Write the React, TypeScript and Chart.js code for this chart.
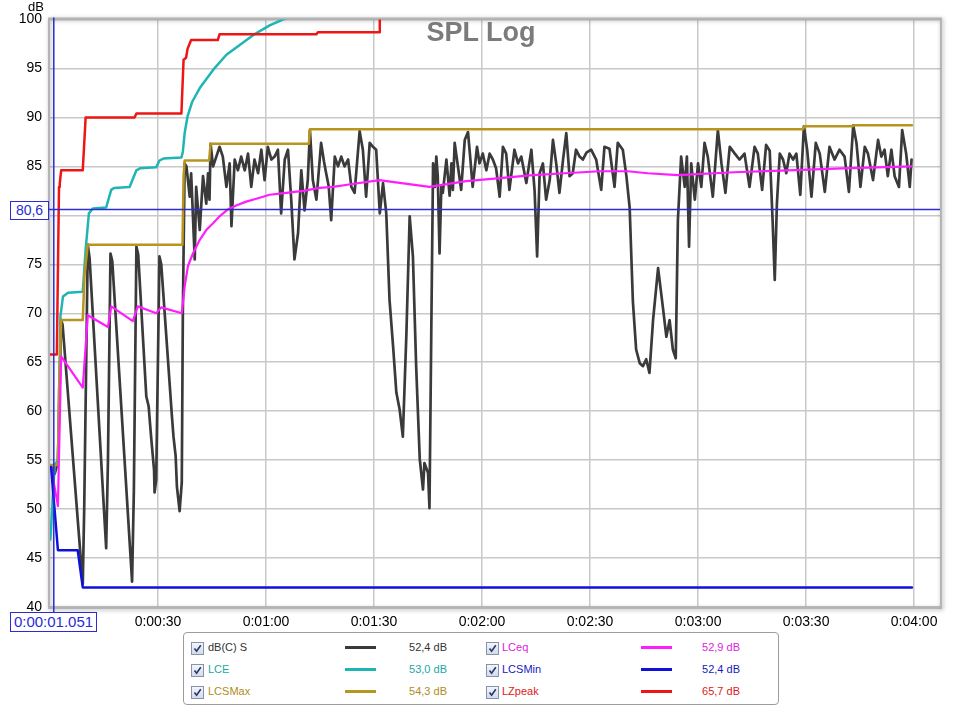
import React, { useEffect, useRef } from "react";
import { Chart, registerables } from "chart.js";

Chart.register(...registerables);

const FONT = '"Liberation Sans", Arial, sans-serif';

// ---- axes ----
const X_MIN = 0;
const X_MAX = 247.2; // seconds
const Y_MIN = 40;
const Y_MAX = 100;
const xTickValues = [30, 60, 90, 120, 150, 180, 210, 240];
const yTickValues = [40, 45, 50, 55, 60, 65, 70, 75, 80, 85, 90, 95, 100];

// ---- cursor ----
const cursorTime = 1.051;
const cursorLevel = 80.6;
const cursorTimeLabel = "0:00:01.051";
const cursorLevelLabel = "80,6";

// ---- dB(C) S ----
const dbcsT = [
  0.3, 1.3, 2.2, 3.1, 3.5, 9.1, 9.5, 10.5, 11.0, 15.6, 16.1, 16.8, 17.3, 22.8, 23.3, 24.0, 24.5,
  26.75, 27.4, 28.1, 28.9, 29.05, 29.5, 30.4, 30.9, 33.9, 34.3, 34.9, 35.25, 36.0, 36.6, 36.9,
  37.4, 37.9, 38.8, 39.2, 40.2, 40.6, 41.6, 42.5, 43.4, 43.9, 44.3, 44.6, 45.3, 46.2, 47.1, 48.0,
  49.0, 49.9, 50.4, 51.3, 52.2, 53.1, 54.1, 55.0, 55.9, 56.8, 57.8, 58.7, 59.6, 60.5, 61.5, 62.4,
  63.3, 64.2, 65.2, 66.1, 67.0, 67.9, 68.9, 69.8, 70.7, 71.6, 72.2, 73.0, 74.0, 75.3, 76.1, 76.7,
  77.4, 78.1, 79.1, 80.0, 80.9, 81.8, 82.8, 83.7, 84.6, 86.0, 86.9, 87.8, 88.8, 89.7, 90.6, 91.6,
  92.5, 93.4, 94.3, 95.3, 96.2, 97.1, 98.0, 99.0, 99.9, 100.8, 101.7, 102.7, 103.6, 104.0, 105.0,
  105.4, 105.9, 106.4, 106.9, 107.3, 107.7, 108.2, 108.7, 109.1, 110.1, 111.0, 111.5, 111.9, 112.4,
  113.3, 114.2, 115.2, 116.1, 116.7, 117.4, 118.6, 119.3, 120.2, 121.2, 122.1, 123.0, 123.9, 124.9,
  125.8, 126.7, 127.6, 129.0, 130.0, 130.9, 132.3, 133.7, 134.6, 135.3, 136.0, 136.9, 137.8, 138.8,
  139.7, 140.6, 141.5, 142.5, 143.4, 144.3, 145.2, 146.1, 147.1, 148.0, 149.0, 150.3, 151.7, 153.1,
  154.0, 155.4, 156.8, 157.7, 159.1, 160.1, 161.0, 161.9, 162.8, 163.8, 164.7, 165.6, 166.5, 167.5,
  168.9, 170.2, 171.2, 172.1, 173.0, 173.8, 174.4, 175.3, 176.3, 176.9, 177.5, 178.1, 179.1, 180.0,
  180.9, 181.8, 182.7, 184.1, 185.5, 186.5, 187.6, 188.8, 190.2, 191.5, 192.9, 194.3, 195.7, 196.6,
  197.8, 198.9, 199.9, 200.7, 201.3, 201.9, 202.7, 203.6, 204.5, 205.4, 206.4, 207.3, 208.4, 209.4,
  210.3, 211.5, 212.7, 213.8, 215.2, 216.5, 217.9, 219.3, 220.7, 221.9, 223.1, 224.0, 225.1, 226.3,
  227.2, 228.6, 230.0, 230.9, 231.8, 232.7, 233.7, 234.6, 235.8, 236.7, 237.8, 238.8, 239.3,
];
const dbcsV = [
  54.3, 53.6, 54.8, 69.3, 68.8, 42.3, 50.0, 77.0, 75.6, 46.0, 55.0, 76.1, 75.3, 42.6, 52.0, 76.8, 76.0,
  61.5, 60.5, 57.3, 54.0, 51.7, 53.0, 75.8, 75.0, 59.3, 57.4, 55.4, 52.3, 49.8, 52.7, 70.0,
  85.3, 85.0, 81.9, 84.3, 75.5, 82.9, 78.5, 84.0, 81.2, 84.3, 81.6, 87.3, 85.0, 86.0, 87.0, 86.0,
  82.9, 85.3, 78.9, 85.7, 84.6, 86.0, 84.6, 86.3, 82.9, 85.7, 84.3, 86.7, 83.6, 87.0, 85.7, 86.0,
  86.7, 80.2, 85.7, 86.7, 81.6, 75.5, 78.2, 84.6, 80.5, 83.6, 88.7, 83.6, 81.6, 87.4, 85.5, 84.3,
  83.0, 79.5, 86.0, 85.0, 86.0, 85.0, 85.7, 82.9, 82.3, 88.6, 86.7, 81.9, 87.4, 87.0, 86.7, 80.2,
  83.3, 80.2, 71.4, 66.6, 61.9, 60.2, 57.4, 68.0, 79.9, 75.8, 64.6, 55.1, 52.0, 54.7, 53.7,
  50.1, 68.0, 85.3, 82.9, 86.0, 84.0, 76.1, 83.0, 82.3, 85.7, 82.0, 85.3, 82.6, 87.4,
  85.0, 82.6, 87.7, 88.5, 86.0, 82.9, 87.0, 85.3, 86.3, 84.6, 86.3, 85.7, 84.8, 81.9,
  87.0, 86.3, 82.6, 86.7, 85.3, 86.0, 83.3, 86.7, 82.5, 75.8, 84.3, 85.3, 81.6, 83.6,
  87.7, 85.3, 82.3, 85.7, 88.4, 84.0, 84.3, 86.7, 86.0, 85.7, 86.4, 86.7, 85.7, 82.6,
  87.0, 86.8, 82.9, 87.4, 86.7, 84.0, 80.8, 71.2, 66.3, 64.9, 64.6, 65.3, 63.9, 69.3,
  74.6, 70.7, 67.6, 69.3, 66.3, 65.4, 79.5, 86.0, 82.9, 86.0, 76.8, 85.3, 81.6, 85.3,
  82.9, 87.4, 86.0, 81.9, 88.7, 85.3, 82.3, 87.0, 86.3, 85.7, 86.3, 82.9, 87.0, 86.3,
  82.6, 87.2, 86.6, 79.5, 73.4, 81.2, 86.3, 85.7, 84.3, 86.3, 85.7, 86.3, 82.1, 89.1,
  86.7, 81.9, 87.4, 86.3, 82.4, 87.0, 85.7, 86.7, 86.0, 82.4, 89.2, 87.4, 82.9, 87.0,
  86.3, 83.6, 87.7, 86.0, 86.7, 84.0, 86.7, 84.0, 82.9, 88.7, 86.3, 82.9, 85.7,
];

// ---- LCeq ----
const lceqT = [
  0.3, 2.2, 3.1, 9.1, 10.5, 16.1, 17.0, 23.0, 24.4, 29.5, 30.9, 36.6, 37.4, 38.3, 39.7, 41.6, 43.4,
  45.3, 47.1, 49.4, 51.7, 54.5, 57.3, 61.0, 65.6, 70.3, 74.9, 78.6, 84.0, 91.5, 93.5, 105.4, 115.6,
  125.0, 134.1, 143.0, 152.6, 160.5, 166.0, 174.4, 190.0, 205.0, 220.0, 239.3,
];
const lceqV = [
  54.3, 50.3, 65.6, 62.4, 69.8, 68.6, 70.7, 69.2, 70.7, 70.0, 70.6, 70.0, 72.7, 74.8, 76.1, 77.5, 78.5,
  79.2, 79.9, 80.6, 81.0, 81.4, 81.7, 82.1, 82.3, 82.5, 82.8, 82.9, 83.2, 83.6, 83.5, 82.9, 83.5,
  83.8, 84.1, 84.3, 84.5, 84.5, 84.3, 84.1, 84.4, 84.6, 84.8, 85.0,
];

// ---- LCE ----
const lceT = [
  0.1, 1.3, 2.2, 2.9, 3.6, 5.0, 9.1, 9.9, 10.8, 11.9, 15.6, 17.0, 17.8, 22.1, 24.0, 25.0, 29.5, 30.4,
  31.5, 36.5, 36.9, 37.4, 38.2, 39.5, 41.6, 45.3, 49.0, 52.7, 56.4, 61.0, 64.7, 70.0,
];
const lceV = [
  46.9, 54.5, 55.0, 69.7, 71.7, 72.1, 72.2, 76.5, 80.2, 80.7, 80.8, 82.6, 82.8, 82.9, 84.6, 84.8, 84.9, 85.6,
  85.8, 85.9, 86.5, 88.4, 90.1, 91.6, 93.0, 94.85, 96.4, 97.4, 98.4, 99.4, 100.0, 100.8,
];

// ---- LCSMax ----
const lcsmaxT = [0, 2.2, 2.5, 3.1, 9.1, 9.6, 10.5, 36.8, 37.1, 37.4, 44.2, 44.6, 71.9, 72.2, 209.2, 209.5, 222.9, 223.2, 239.4];
const lcsmaxV = [54.5, 54.5, 62.0, 69.3, 69.3, 74.0, 77.0, 77.0, 84.0, 85.6, 85.6, 87.3, 87.3, 88.8, 88.8, 89.1, 89.1, 89.2, 89.2];

// ---- LCSMin ----
const lcsminT = [0.3, 2.2, 7.7, 9.1, 239.4];
const lcsminV = [54.3, 45.8, 45.8, 42.0, 42.0];

// ---- LZpeak ----
const lzpeakT = [0, 1.9, 2.5, 2.7, 3.1, 9.1, 9.9, 23.5, 24.0, 36.5, 37.1, 37.8, 38.2, 39.2, 46.6, 47.1, 74.0, 74.4, 91.4, 91.6];
const lzpeakV = [65.8, 65.8, 82.9, 83.2, 84.6, 84.6, 90.0, 90.0, 90.4, 90.4, 95.9, 96.1, 97.0, 97.9, 97.9, 98.5, 98.5, 98.7, 98.7, 103.0];

// ---- legend ----
const seriesNames = ["dB(C) S", "LCE", "LCSMax", "LCeq", "LCSMin", "LZpeak"];
const seriesValues = ["52,4 dB", "53,0 dB", "54,3 dB", "52,9 dB", "52,4 dB", "65,7 dB"];
const seriesColors = ["#3a3a3a", "#1fb5b5", "#b8951f", "#ff1cff", "#1010dd", "#ee1515"];
const legendTextColors = ["#333333", "#1aa8a8", "#b08c22", "#e020e0", "#1818c0", "#e01818"];

const pts = (t: number[], v: number[]) => t.map((x, i) => ({ x, y: v[i] }));

const fmtTime = (v: number) => {
  const m = Math.floor(v / 60);
  const s = Math.round(v % 60);
  return `0:${String(m).padStart(2, "0")}:${String(s).padStart(2, "0")}`;
};

const overlayPlugin = {
  id: "splOverlay",
  beforeDatasetsDraw(chart: any) {
    const { ctx, chartArea: a } = chart;
    ctx.save();
    ctx.shadowColor = "rgba(0,0,0,0.35)";
    ctx.shadowBlur = 4;
    ctx.shadowOffsetX = 1;
    ctx.shadowOffsetY = 1;
    ctx.strokeStyle = "#b4b4b4";
    ctx.lineWidth = 2;
    ctx.strokeRect(a.left - 1, a.top - 1, a.right - a.left + 2, a.bottom - a.top + 2);
    ctx.restore();
  },
  afterDatasetsDraw(chart: any) {
    const { ctx, chartArea: a, scales } = chart;
    const x = scales.x.getPixelForValue(cursorTime);
    const y = scales.y.getPixelForValue(cursorLevel);
    ctx.save();
    ctx.strokeStyle = "#2c2cd2";
    ctx.lineWidth = 1.5;
    ctx.beginPath();
    ctx.moveTo(a.left - 1, y);
    ctx.lineTo(a.right, y);
    ctx.stroke();
    ctx.beginPath();
    ctx.moveTo(x, a.top - 2);
    ctx.lineTo(x, a.bottom + 6);
    ctx.stroke();
    ctx.restore();
  },
};

function CheckBox() {
  return (
    <span
      style={{
        display: "inline-block",
        width: 11,
        height: 11,
        border: "1px solid #8593ad",
        background: "linear-gradient(#f3f5fa, #d3dae8)",
        position: "relative",
        boxSizing: "content-box",
      }}
    >
      <svg width="11" height="11" style={{ position: "absolute", left: 0, top: 0 }}>
        <path d="M2.5 5.5 L4.6 8.2 L8.8 2.3" stroke="#26366e" strokeWidth="1.6" fill="none" />
      </svg>
    </span>
  );
}

function Legend() {
  const rowsTop = [641, 663, 685];
  const cols = [
    { box: 191, label: 208, line: 345, valueRight: 447 },
    { box: 486, label: 502, line: 641, valueRight: 740 },
  ];
  const items: any[] = [];
  for (let i = 0; i < seriesNames.length; i++) {
    const col = cols[Math.floor(i / 3)];
    const top = rowsTop[i % 3];
    items.push(
      <div key={i}>
        <div style={{ position: "absolute", left: col.box, top: top }}>
          <CheckBox />
        </div>
        <div
          style={{
            position: "absolute",
            left: col.label,
            top: top - 1,
            font: `11px ${FONT}`,
            lineHeight: "14px",
            color: legendTextColors[i],
            whiteSpace: "nowrap",
          }}
        >
          {seriesNames[i]}
        </div>
        <div
          style={{
            position: "absolute",
            left: col.line,
            top: top + 5,
            width: 31,
            height: 3,
            background: seriesColors[i],
          }}
        />
        <div
          style={{
            position: "absolute",
            left: col.valueRight - 80,
            width: 80,
            textAlign: "right",
            top: top - 1,
            font: `11px ${FONT}`,
            lineHeight: "14px",
            color: legendTextColors[i],
            whiteSpace: "nowrap",
          }}
        >
          {seriesValues[i]}
        </div>
      </div>
    );
  }
  return (
    <>
      <div
        style={{
          position: "absolute",
          left: 183,
          top: 632,
          width: 594,
          height: 71,
          border: "1px solid #9c9c9c",
          borderRadius: 4,
          background: "#fff",
        }}
      />
      {items}
    </>
  );
}

export default function App() {
  const canvasRef = useRef<HTMLCanvasElement | null>(null);

  useEffect(() => {
    const canvas = canvasRef.current;
    if (!canvas) return;
    Chart.defaults.font.family = FONT;
    const mk = (label: string, t: number[], v: number[], color: string, width: number, order: number) => ({
      label,
      data: pts(t, v),
      borderColor: color,
      backgroundColor: color,
      borderWidth: width,
      pointRadius: 0,
      tension: 0,
      fill: false,
      order,
      borderJoinStyle: "round",
      borderCapStyle: "round",
    });
    const chart = new Chart(canvas, {
      type: "line",
      data: {
        datasets: [
          mk(seriesNames[5], lzpeakT, lzpeakV, seriesColors[5], 2.5, 1),
          mk(seriesNames[4], lcsminT, lcsminV, seriesColors[4], 2.5, 1),
          mk(seriesNames[3], lceqT, lceqV, seriesColors[3], 2.2, 1),
          mk(seriesNames[2], lcsmaxT, lcsmaxV, seriesColors[2], 2.5, 1),
          mk(seriesNames[1], lceT, lceV, seriesColors[1], 2.5, 1),
          mk(seriesNames[0], dbcsT, dbcsV, seriesColors[0], 2.7, 5),
        ],
      },
      options: {
        responsive: false,
        animation: false,
        devicePixelRatio: 1,
        layout: { padding: { left: 0, right: 23, top: 19.5, bottom: 69 } },
        plugins: {
          legend: { display: false },
          tooltip: { enabled: false },
          title: { display: false },
        },
        elements: { point: { radius: 0 }, line: { tension: 0 } },
        scales: {
          x: {
            type: "linear",
            min: X_MIN,
            max: X_MAX,
            afterBuildTicks: (s: any) => {
              s.ticks = xTickValues.map((v) => ({ value: v }));
            },
            afterFit: (s: any) => {
              s.height = 30;
            },
            ticks: {
              callback: (v: any) => fmtTime(Number(v)),
              color: "#000",
              font: { size: 14 },
              padding: 7,
              maxRotation: 0,
              autoSkip: false,
            },
            grid: { color: "#c8c8c8", lineWidth: 1.5, drawTicks: false },
            border: { display: false },
          },
          y: {
            min: Y_MIN,
            max: Y_MAX,
            afterBuildTicks: (s: any) => {
              s.ticks = yTickValues.map((v) => ({ value: v }));
            },
            afterFit: (s: any) => {
              s.width = 50;
            },
            ticks: { padding: 8, color: "#000", font: { size: 14 } },
            grid: { color: "#c8c8c8", lineWidth: 1.5, drawTicks: false },
            border: { display: false },
          },
        },
      },
      plugins: [overlayPlugin],
    } as any);
    return () => chart.destroy();
  }, []);

  return (
    <div style={{ position: "fixed", left: 0, top: 0, width: 963, height: 706, background: "#fff", overflow: "hidden" }}>
      <canvas ref={canvasRef} width={963} height={706} style={{ width: 963, height: 706, display: "block" }} />
      <div style={{ position: "absolute", left: 28, top: 0, font: `13px ${FONT}`, lineHeight: "13px", color: "#000" }}>dB</div>
      <div
        style={{
          position: "absolute",
          left: 381,
          width: 200,
          top: 19,
          textAlign: "center",
          font: `bold 27px ${FONT}`,
          lineHeight: "27px",
          color: "#7b7b7b",
        }}
      >
        SPL Log
      </div>
      <div
        style={{
          position: "absolute",
          left: 10,
          top: 201,
          width: 37,
          height: 17,
          border: "1px solid #2a2ad6",
          background: "#fff",
          color: "#2a2ad6",
          font: `14px ${FONT}`,
          lineHeight: "17px",
          textAlign: "center",
        }}
      >
        {cursorLevelLabel}
      </div>
      <div
        style={{
          position: "absolute",
          left: 10,
          top: 612,
          width: 85,
          height: 18,
          border: "1px solid #2a2ad6",
          background: "#fff",
          color: "#2a2ad6",
          font: `15px ${FONT}`,
          lineHeight: "18px",
          textAlign: "center",
        }}
      >
        {cursorTimeLabel}
      </div>
      <Legend />
    </div>
  );
}
